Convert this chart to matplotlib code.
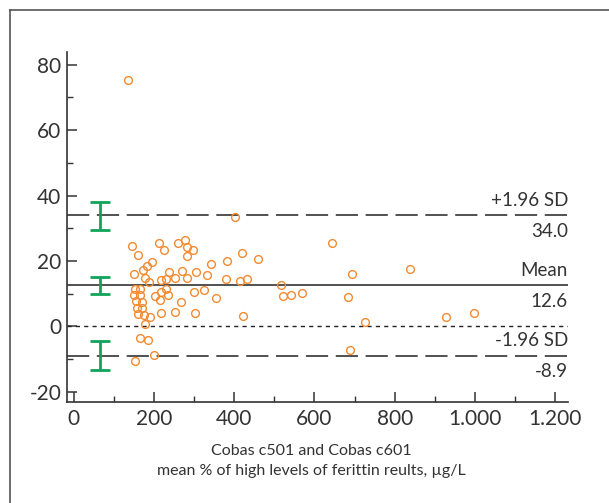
import matplotlib.pyplot as plt
from matplotlib.lines import Line2D
from matplotlib.ticker import MultipleLocator, FuncFormatter

plt.rcParams['font.family'] = ['Lato', 'DejaVu Sans']
plt.rcParams['lines.scale_dashes'] = False
plt.rcParams['axes.unicode_minus'] = False

# Bland-Altman data
mean_vals = [135, 403, 145, 161, 211, 224, 259, 277, 281, 298, 283, 195, 183, 173,
             150, 177, 187, 217, 229, 238, 253, 270, 282, 304, 331, 342, 152, 166,
             150, 165, 155, 170, 158, 170, 159, 175, 190, 177, 202, 214, 216, 229,
             234, 217, 252, 267, 300, 302, 325, 354, 381, 380, 419, 414, 432, 421,
             459, 517, 522, 542, 570, 643, 693, 684, 688, 838, 725, 928, 999, 164,
             185, 199, 152]
diff_vals = [75.2, 33.6, 24.6, 21.7, 25.5, 23.4, 25.6, 26.4, 24.2, 23.3, 21.6, 19.6,
             18.6, 17.2, 16.0, 14.7, 13.6, 14.1, 14.6, 16.6, 14.8, 16.8, 14.8, 16.6,
             15.7, 19.2, 11.5, 11.5, 9.5, 9.5, 7.9, 7.6, 5.7, 5.7, 3.7, 3.5, 2.9, 0.7,
             9.3, 8.0, 10.5, 11.3, 9.5, 4.2, 4.4, 7.4, 10.6, 4.2, 11.2, 8.8, 20.1, 14.5,
             22.5, 13.8, 14.6, 3.1, 20.6, 12.7, 9.3, 9.7, 10.2, 25.4, 16.1, 9.0, -7.2,
             17.6, 1.3, 3.0, 4.2, -3.6, -4.2, -8.7, -10.6]

mean_diff = 12.6
upper_loa = 34.0
lower_loa = -8.9
# confidence intervals (low, high) for upper LoA, mean, lower LoA
ci_low = [29.5, 9.8, -13.3]
ci_high = [37.9, 15.2, -4.6]
ci_x = 65

text_col = '#333333'
fig = plt.figure(figsize=(6.09, 5.03), dpi=100)
ax = fig.add_axes([0.1095, 0.2014, 0.823, 0.696])

# frame around the figure (only left and top edges are visible)
fx = 10 / 609
fy = 1 - 10 / 503
fig.lines.append(Line2D([fx, fx], [0, fy], transform=fig.transFigure,
                        color='#555555', lw=1.2))
fig.lines.append(Line2D([fx, 1], [fy, fy], transform=fig.transFigure,
                        color='#555555', lw=1.2))

ax.plot(mean_vals, diff_vals, 'o', ms=5.6, mfc='none', mec='#F28A30', mew=1.0,
        zorder=3)

ax.axhline(mean_diff, color='#222222', lw=1.1)
ax.axhline(upper_loa, color='#222222', lw=1.1, dashes=(16, 5.5))
ax.axhline(lower_loa, color='#222222', lw=1.1, dashes=(16, 5.5))
ax.axhline(0, color='#222222', lw=1.0, dashes=(3, 3))

for lo, hi, c in zip(ci_low, ci_high, [upper_loa, mean_diff, lower_loa]):
    ax.errorbar([ci_x], [c], yerr=[[c - lo], [hi - c]], fmt='none',
                ecolor='#12A35A', elinewidth=2.0, capsize=7, capthick=2.0,
                zorder=4)

labels_above = ['+1.96 SD', 'Mean', '-1.96 SD']
labels_below = ['%.1f' % upper_loa, '%.1f' % mean_diff, '%.1f' % lower_loa]
for y, top, bot in zip([upper_loa, mean_diff, lower_loa], labels_above, labels_below):
    ax.annotate(top, xy=(1, y), xycoords=('axes fraction', 'data'),
                xytext=(0, 4.5), textcoords='offset points', ha='right',
                va='bottom', fontsize=13.5, color=text_col)
    ax.annotate(bot, xy=(1, y), xycoords=('axes fraction', 'data'),
                xytext=(0, -5.5), textcoords='offset points', ha='right',
                va='top', fontsize=13.5, color=text_col)

ax.set_xlim(-18, 1232)
ax.set_ylim(-23, 84)
ax.xaxis.set_major_locator(MultipleLocator(200))
ax.xaxis.set_minor_locator(MultipleLocator(100))
ax.yaxis.set_major_locator(MultipleLocator(20))
ax.yaxis.set_minor_locator(MultipleLocator(10))
ax.xaxis.set_major_formatter(FuncFormatter(lambda v, p: f'{int(v):,}'.replace(',', '.')))

for s in ['top', 'right']:
    ax.spines[s].set_visible(False)
for s in ['left', 'bottom']:
    ax.spines[s].set_color('#333333')
    ax.spines[s].set_linewidth(1.2)

ax.tick_params(which='major', direction='in', length=7, width=1.1,
               colors='#333333', labelsize=15, labelcolor=text_col)
ax.tick_params(which='minor', direction='in', length=4, width=1.0, colors='#333333')
ax.tick_params(axis='y', pad=4)
ax.tick_params(axis='x', pad=5)

fig.text(311 / 609, 1 - 455 / 503, 'Cobas c501 and Cobas c601', ha='center',
         va='baseline', fontsize=11.5, color=text_col)
fig.text(311 / 609, 1 - 475 / 503, 'mean % of high levels of ferittin reults, \u00b5g/L',
         ha='center', va='baseline', fontsize=11.5, color=text_col)

fig.savefig('out.png', dpi=100)
